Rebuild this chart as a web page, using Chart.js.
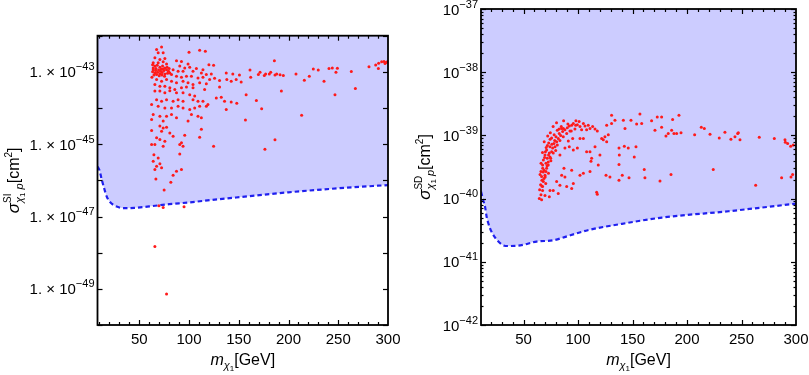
<!DOCTYPE html>
<html>
<head>
<meta charset="utf-8">
<script src="https://cdn.jsdelivr.net/npm/chart.js@4.4.1/dist/chart.umd.min.js"></script>
<style>
  html, body { margin: 0; padding: 0; background: #fff; }
  #wrap { position: relative; width: 809px; height: 375px; }
  canvas { position: absolute; top: 0; }
  #chartSI { left: 0; }
  #chartSD { left: 404px; }
</style>
</head>
<body>
<div id="wrap">
  <canvas id="chartSI" width="404" height="375"></canvas>
  <canvas id="chartSD" width="405" height="375"></canvas>
</div>
<script>
// values are [mass in GeV, log10(cross section / cm^2)]
const siPoints = [
  [72.4,-42.31],[67.4,-42.38],[69.0,-42.47],[74.0,-42.47],[65.7,-42.61],[70.7,-42.66],[75.7,-42.63],[64.0,-42.75],[69.0,-42.75],[74.0,-42.72],[77.4,-42.78],[64.0,-42.89],
  [63.4,-42.80],[65.7,-42.84],[68.0,-42.82],[70.7,-42.87],[73.4,-42.84],[75.7,-42.89],[78.0,-42.87],[64.0,-42.94],[66.7,-42.91],[69.4,-42.95],[72.0,-42.93],[74.7,-42.96],[77.4,-42.94],[79.4,-42.98],
  [63.4,-43.00],[65.7,-43.03],[68.4,-43.01],[70.7,-43.05],[73.0,-43.02],[75.7,-43.06],[78.4,-43.04],[64.7,-43.09],[67.4,-43.07],[70.0,-43.11],[72.7,-43.09],[75.4,-43.12],[62.7,-43.15],[80.0,-42.91],[80.7,-43.03],[71.4,-42.98],[66.4,-42.96],[74.0,-42.92],
  [100.0,-42.46],[110.7,-42.40],[116.4,-42.43],[87.4,-42.69],[92.4,-42.71],[99.0,-42.78],[120.0,-42.80],[124.7,-42.82],[90.7,-42.84],[95.7,-42.89],[100.7,-42.87],[107.4,-42.91],[114.0,-42.94],
  [84.0,-42.94],[89.0,-42.98],[94.0,-42.98],[104.0,-42.98],[112.4,-43.03],[117.4,-43.07],[122.4,-43.06],[137.4,-43.03],[144.0,-43.06],[150.7,-43.09],[82.4,-43.07],[87.4,-43.12],[92.4,-43.15],
  [97.4,-43.12],[102.4,-43.12],[109.0,-43.17],[114.0,-43.15],[120.7,-43.21],[125.7,-43.18],[130.7,-43.24],[138.0,-43.21],[142.4,-43.26],[147.4,-43.21],[152.4,-43.28],[67.4,-43.21],[72.4,-43.26],
  [77.4,-43.21],[82.4,-43.26],[87.4,-43.30],[94.0,-43.26],[99.0,-43.30],[104.0,-43.35],[110.7,-43.30],[117.4,-43.33],[65.7,-43.35],[70.7,-43.40],[75.7,-43.40],[80.7,-43.44],[85.7,-43.49],
  [92.4,-43.44],[97.4,-43.42],[104.0,-43.44],[115.7,-43.49],[130.7,-43.42],[65.7,-43.53],[70.7,-43.53],[75.7,-43.58],[80.7,-43.52],[87.4,-43.58],[94.0,-43.58],[100.7,-43.63],[105.7,-43.67],
  [127.4,-43.72],[132.4,-43.70],[157.4,-43.63],[67.4,-43.77],[72.4,-43.81],[77.4,-43.77],[84.0,-43.81],[89.0,-43.77],[94.0,-43.81],[104.0,-43.77],[109.0,-43.81],[114.0,-43.81],[119.0,-43.90],
  [135.7,-43.81],[142.4,-43.83],[148.0,-43.87],[62.4,-43.90],[69.0,-43.95],[75.7,-44.00],[82.4,-44.00],[89.0,-43.95],[94.0,-44.00],[100.7,-44.04],[105.7,-44.00],[110.7,-43.95],[117.4,-43.95],
  [137.4,-44.04],[64.0,-44.18],[70.7,-44.23],[77.4,-44.23],[82.4,-44.18],[87.4,-44.27],[99.0,-44.36],[109.0,-44.23],[112.4,-44.27],[102.4,-44.18],[156.7,-44.33],[62.4,-44.32],[74.0,-44.36],
  [112.4,-44.59],[70.7,-44.50],[74.0,-44.55],[77.4,-44.53],[72.4,-44.64],[80.7,-44.69],[84.0,-44.78],[95.7,-44.75],[110.7,-44.81],[62.4,-44.62],[67.4,-44.82],[70.7,-44.87],[75.7,-44.92],
  [90.7,-45.01],[94.0,-45.06],[62.4,-45.01],[65.7,-45.01],[74.0,-45.06],[92.4,-44.96],[124.7,-45.06],[64.7,-45.29],[69.0,-45.38],[90.7,-45.27],[70.7,-45.54],[64.0,-45.47],[67.4,-45.61],
  [72.4,-45.65],[65.7,-45.70],[84.0,-45.86],[87.4,-45.75],[92.4,-45.70],
  [161.3,-42.95],[162.0,-43.15],[169.7,-43.07],[171.4,-43.01],[175.7,-43.10],[177.0,-43.06],[180.7,-43.06],[182.1,-43.01],[185.8,-42.69],[186.4,-43.09],[188.1,-43.06],[191.5,-43.08],
  [194.8,-43.10],[207.5,-43.06],[215.9,-43.23],[220.9,-43.12],[224.9,-42.92],[229.9,-42.95],[235.7,-43.26],[240.7,-42.91],[244.0,-42.89],[247.7,-43.01],[249.1,-42.90],[263.1,-42.99],
  [267.2,-43.46],[280.9,-42.86],[287.6,-42.81],[290.3,-42.91],[290.6,-42.76],[293.6,-42.72],[296.0,-42.71],[297.0,-42.77],[298.0,-42.74],[299.3,-42.72],[192.8,-43.53],[167.7,-43.79],
  [173.0,-44.02],[213.2,-44.20],[246.7,-43.63],[186.4,-44.88],[176.3,-45.14],
  [66.7,-45.96],[81.7,-46.05],[75.0,-46.27],[69.7,-46.70],[74.0,-46.75],[95.0,-46.73],[65.7,-47.83],[77.4,-49.14]
];

const siLimitMass = [8, 10, 12, 14.5, 17, 20, 24, 30, 35, 45, 60, 80, 100, 130, 160, 200, 250, 300];
const siLimitExp = [-45.62, -45.72, -45.95, -46.2, -46.43, -46.58, -46.68, -46.75, -46.77, -46.76, -46.72, -46.66, -46.61, -46.52, -46.44, -46.33, -46.22, -46.13];

const sdPoints = [
  [66.6,-40.02],[66.0,-39.94],[67.5,-39.87],[65.7,-39.78],[68.2,-39.73],[66.6,-39.65],[69.7,-39.63],[66.0,-39.57],[68.8,-39.55],[71.2,-39.52],[67.5,-39.47],[70.6,-39.44],[72.7,-39.42],
  [68.2,-39.39],[71.8,-39.36],[74.3,-39.34],[69.7,-39.31],[73.7,-39.28],[75.8,-39.26],[71.2,-39.23],[76.7,-39.20],[78.9,-39.18],[74.3,-39.18],[77.9,-39.13],[80.4,-39.10],[81.9,-39.05],
  [79.8,-39.02],[84.1,-39.00],[82.8,-38.97],[85.9,-38.94],[88.0,-38.91],[85.0,-38.89],[90.2,-38.88],[92.0,-38.85],[94.2,-38.84],[95.7,-38.81],[98.1,-38.77],[99.4,-38.83],[101.8,-38.86],
  [104.9,-38.81],[106.4,-38.85],[109.4,-38.84],[111.0,-38.89],[113.4,-38.86],[115.6,-38.90],[117.7,-38.93],[107.9,-38.91],[103.3,-38.91],[97.2,-38.90],[92.6,-38.93],[89.6,-38.97],
  [86.5,-39.02],[83.4,-39.08],[81.0,-39.15],[77.3,-39.28],[74.9,-39.36],[72.7,-39.47],[70.6,-39.57],[68.8,-39.68],[67.5,-39.81],
  [64.8,-39.86],[66.9,-39.71],[65.2,-39.62],[67.6,-39.52],[66.1,-39.44],[69.3,-39.35],[67.4,-39.27],[70.8,-39.19],[69.0,-39.10],[73.1,-39.12],[72.2,-39.01],[75.8,-39.04],[74.6,-38.96],
  [78.1,-38.99],[77.2,-38.86],[81.0,-38.92],[80.3,-38.80],[84.6,-38.86],[86.8,-38.77],[90.7,-38.82],[69.9,-39.66],[71.6,-39.48],[68.1,-39.58],[73.0,-39.31],[70.1,-39.26],[76.0,-39.14],
  [71.9,-39.16],[78.6,-39.08],[74.4,-39.06],[82.7,-38.90],[64.5,-40.00],[66.8,-39.80],[70.4,-39.76],[72.9,-39.60],[75.1,-39.40],[79.5,-39.24],[86.6,-38.89],[93.8,-38.93],[97.9,-38.84],[101.0,-38.78],
  [83.4,-39.31],[88.0,-39.20],[92.0,-39.18],[95.7,-39.23],[99.4,-39.20],[101.8,-39.05],[95.1,-39.05],[91.1,-39.09],[104.9,-39.05],[107.9,-39.26],[111.0,-39.26],[115.6,-39.18],[112.5,-39.36],
  [111.9,-39.41],[120.1,-39.31],[118.6,-39.47],[111.0,-39.57],[104.9,-39.60],[101.8,-39.63],[95.7,-39.76],[94.2,-39.84],[89.6,-39.81],[83.4,-39.79],[80.4,-39.73],[77.3,-39.87],[74.3,-39.87],
  [69.7,-39.95],[88.0,-39.66],[85.0,-39.63],[87.1,-39.52],[94.2,-39.55],[81.9,-39.92],[73.7,-39.97],[117.1,-39.90],[117.7,-39.93],[121.7,-39.05],[124.7,-39.02],[126.3,-39.10],[123.2,-39.07],
  [130.8,-38.68],[133.9,-38.76],[130.8,-38.81],[126.3,-38.84],[141.6,-38.76],[148.6,-38.76],[156.8,-38.66],[158.4,-38.81],[153.8,-38.82],[167.5,-38.77],[172.7,-38.71],[170.6,-38.92],
  [143.1,-38.89],[137.6,-39.20],[142.5,-39.17],[146.1,-39.20],[153.2,-39.18],[137.9,-39.31],[137.6,-39.46],[125.7,-39.63],[129.3,-39.66],[140.6,-39.63],[146.8,-39.67],[137.6,-39.71],
  [151.6,-39.34],[160.8,-39.54],[161.4,-39.67],[127.8,-38.99],
  [176.7,-38.71],[186.8,-38.75],[192.6,-38.68],[176.7,-38.87],[185.9,-38.92],[182.8,-38.97],[180.7,-39.01],[188.0,-38.97],[190.5,-38.97],[194.5,-38.96],[207.0,-38.99],[213.1,-38.87],
  [215.9,-38.89],[221.1,-38.98],[229.6,-39.04],[234.8,-38.95],[240.3,-39.06],[244.0,-39.02],[246.5,-38.97],[247.1,-38.96],[248.6,-39.07],[266.3,-39.03],[280.1,-39.05],[289.9,-39.07],
  [290.2,-39.11],[292.3,-39.13],[295.1,-39.17],[297.5,-39.15],[224.1,-39.54],[185.3,-39.62],[175.2,-39.72],[263.0,-39.79],[286.8,-39.67],[295.4,-39.66],[296.9,-39.62]
];

const sdLimitMass = [11, 13.1, 14.7, 16.2, 17.7, 20.8, 25.4, 31.5, 36, 47, 62, 77, 93, 109, 140, 177, 238, 300];
const sdLimitExp = [-39.89, -40.03, -40.13, -40.29, -40.39, -40.53, -40.65, -40.74, -40.75, -40.74, -40.68, -40.66, -40.58, -40.50, -40.40, -40.30, -40.20, -40.08];

const massTicks = [50, 100, 150, 200, 250, 300];
const siLabelExps = [-43, -45, -47, -49];
const sdLabelExps = [-37, -38, -39, -40, -41, -42];

const RED = '#ff1a1a';
const BLUE = '#1f1fef';
const FILL = 'rgb(204,204,255)';
const FONT = '"Liberation Sans", Arial, sans-serif';

function font(size, italic) {
  return (italic ? 'italic ' : '') + size + 'px ' + FONT;
}

// draws runs of text; a run with adv:false does not move the pen (for stacked sup/sub)
function drawRich(ctx, runs, x, y, align) {
  let total = 0;
  runs.forEach(r => {
    ctx.font = font(r.s, r.i);
    r.w = ctx.measureText(r.t).width;
    if (r.adv !== false) total += r.w;
  });
  let cx = align === 'right' ? x - total : align === 'center' ? x - total / 2 : x;
  ctx.textAlign = 'left';
  ctx.textBaseline = 'alphabetic';
  runs.forEach(r => {
    ctx.font = font(r.s, r.i);
    ctx.fillText(r.t, cx, y + (r.dy || 0));
    if (r.adv !== false) cx += r.w;
  });
}

const framePlugin = {
  id: 'frame',
  afterDraw(chart, args, opts) {
    const { ctx, chartArea: a, scales: { x, y } } = chart;
    ctx.save();
    ctx.strokeStyle = '#000';
    ctx.fillStyle = '#000';

    const seg = (x1, y1, x2, y2) => {
      ctx.beginPath(); ctx.moveTo(x1, y1); ctx.lineTo(x2, y2); ctx.stroke();
    };

    // ticks along x (every 10 GeV, long every 50)
    ctx.lineWidth = 1.2;
    for (let v = 10; v <= 300; v += 10) {
      const px = Math.round(x.getPixelForValue(v)) + 0.5;
      if (px < a.left || px > a.right) continue;
      const len = v % 50 === 0 ? 5 : 3;
      seg(px, a.bottom, px, a.bottom - len);
      seg(px, a.top, px, a.top + len);
    }

    // ticks along y
    for (let e = opts.yMin; e <= opts.yMax; e++) {
      const py = Math.round(y.getPixelForValue(Math.pow(10, e))) + 0.5;
      seg(a.left, py, a.left + 5, py);
      seg(a.right, py, a.right - 5, py);
      if (opts.minorY && e < opts.yMax) {
        for (let k = 2; k <= 9; k++) {
          const pm = Math.round(y.getPixelForValue(k * Math.pow(10, e))) + 0.5;
          seg(a.left, pm, a.left + 2.5, pm);
          seg(a.right, pm, a.right - 2.5, pm);
        }
      }
    }

    // frame
    ctx.lineWidth = 1.8;
    ctx.strokeRect(a.left, a.top, a.right - a.left, a.bottom - a.top);

    // x tick labels
    ctx.font = font(15);
    ctx.textAlign = 'center';
    ctx.textBaseline = 'alphabetic';
    massTicks.forEach(v => {
      ctx.fillText(String(v), x.getPixelForValue(v), a.bottom + 18.5);
    });

    // y tick labels
    opts.labelExps.forEach(e => {
      const py = y.getPixelForValue(Math.pow(10, e)) + 5.5;
      const runs = opts.sciLabels
        ? [{ t: '1. \u00d7 10', s: 15 }, { t: '\u2212' + Math.abs(e), s: 11, dy: -7 }]
        : [{ t: '10', s: 15 }, { t: '\u2212' + Math.abs(e), s: 11, dy: -7 }];
      drawRich(ctx, runs, a.left - 3, py, 'right');
    });

    // x title: m_{chi_1}[GeV]
    drawRich(ctx, [
      { t: 'm', s: 16, i: true },
      { t: '\u03c7', s: 11, i: true, dy: 4 },
      { t: '1', s: 8, dy: 6 },
      { t: '[GeV]', s: 16 }
    ], (a.left + a.right) / 2, 365, 'center');

    // y title: sigma^{SI/SD}_{chi_1 p}[cm^2]
    ctx.translate(opts.titleX, (a.top + a.bottom) / 2);
    ctx.rotate(-Math.PI / 2);
    drawRich(ctx, [
      { t: '\u03c3', s: 17, i: true },
      { t: opts.tag, s: 10, dy: -8, adv: false },
      { t: '\u03c7', s: 11, i: true, dy: 4 },
      { t: '1', s: 8, dy: 6 },
      { t: ' p', s: 11, i: true, dy: 4 },
      { t: '[cm', s: 16 },
      { t: '2', s: 10, dy: -7 },
      { t: ']', s: 16 }
    ], 0, 0, 'center');

    ctx.restore();
  }
};

function toXY(pairs) {
  return pairs.map(p => ({ x: p[0], y: Math.pow(10, p[1]) }));
}

function makeChart(id, cfg) {
  return new Chart(document.getElementById(id), {
    type: 'scatter',
    data: {
      datasets: [
        {
          data: toXY(cfg.points),
          pointRadius: 1.5,
          pointBackgroundColor: RED,
          pointBorderWidth: 0,
          showLine: false,
          order: 0
        },
        {
          data: cfg.limitMass.map((m, i) => ({ x: m, y: Math.pow(10, cfg.limitExp[i]) })),
          showLine: true,
          borderColor: BLUE,
          borderWidth: 2.2,
          borderDash: [4.5, 3],
          pointRadius: 0,
          cubicInterpolationMode: 'monotone',
          fill: 'end',
          backgroundColor: FILL,
          order: 1
        }
      ]
    },
    options: {
      animation: false,
      responsive: false,
      events: [],
      layout: { padding: { top: cfg.top, right: cfg.right, left: 0, bottom: 0 } },
      plugins: {
        legend: { display: false },
        tooltip: { enabled: false },
        frame: cfg.frame
      },
      scales: {
        x: {
          type: 'linear',
          min: cfg.xMin,
          max: 300,
          grid: { display: false },
          border: { display: false },
          ticks: { display: false },
          afterFit: s => { s.height = 50; }
        },
        y: {
          type: 'logarithmic',
          min: Math.pow(10, cfg.frame.yMin),
          max: Math.pow(10, cfg.frame.yMax),
          grid: { display: false },
          border: { display: false },
          ticks: { display: false },
          afterFit: s => { s.width = cfg.left; }
        }
      }
    },
    plugins: [framePlugin]
  });
}

makeChart('chartSI', {
  points: siPoints, limitMass: siLimitMass, limitExp: siLimitExp,
  xMin: 8, top: 35.7, right: 16, left: 97.5,
  frame: { yMin: -50, yMax: -42, minorY: false, labelExps: siLabelExps, sciLabels: true, tag: 'SI', titleX: 19 }
});

makeChart('chartSD', {
  points: sdPoints, limitMass: sdLimitMass, limitExp: sdLimitExp,
  xMin: 11, top: 9, right: 13, left: 77,
  frame: { yMin: -42, yMax: -37, minorY: true, labelExps: sdLabelExps, sciLabels: false, tag: 'SD', titleX: 26 }
});
</script>
</body>
</html>
